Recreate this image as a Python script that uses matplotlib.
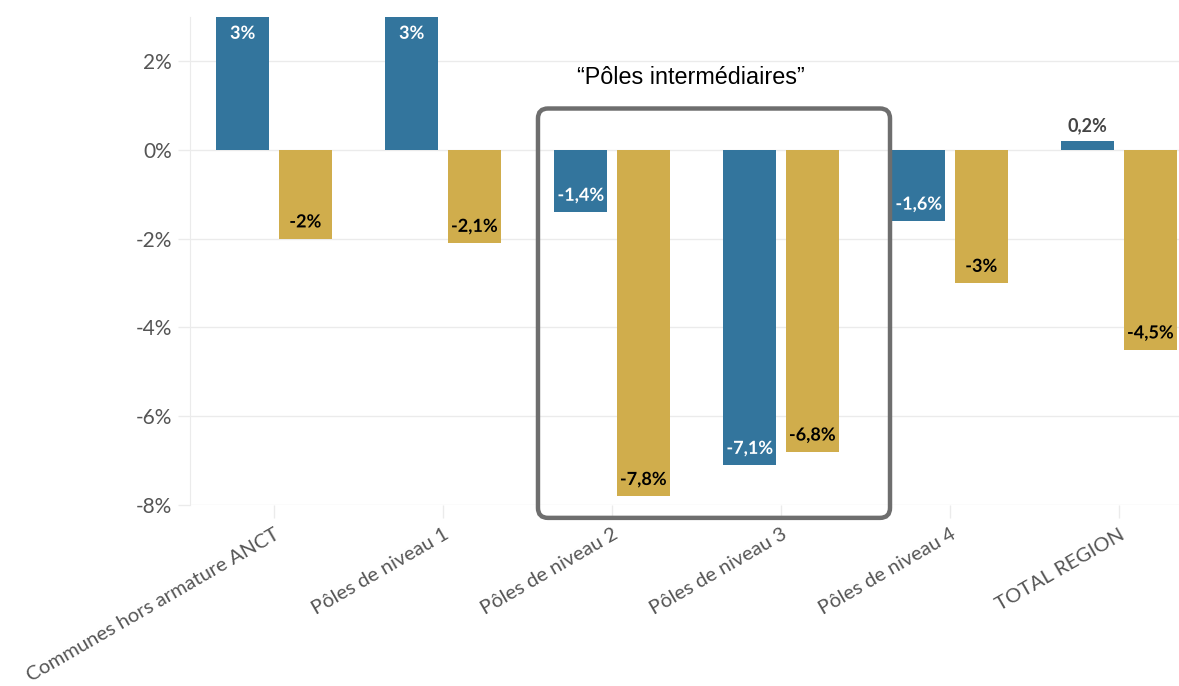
import matplotlib
matplotlib.use("Agg")
import matplotlib.pyplot as plt
import matplotlib.patheffects as pe
from matplotlib.patches import FancyBboxPatch
import numpy as np

categories = ["Communes hors armature ANCT", "Pôles de niveau 1", "Pôles de niveau 2",
              "Pôles de niveau 3", "Pôles de niveau 4", "TOTAL REGION"]
serie_bleue = [3.0, 3.0, -1.4, -7.1, -1.6, 0.2]
serie_or = [-2.0, -2.1, -7.8, -6.8, -3.0, -4.5]
yticks = [2, 0, -2, -4, -6, -8]
annotation = "“Pôles intermédiaires”"

BLUE = "#33759d"
GOLD = "#d0ad4c"
GRID = "#ebebeb"
TICKC = "#555555"

W, H = 1179, 686
fig = plt.figure(figsize=(W / 100, H / 100), dpi=100)
ax = fig.add_axes([190 / W, (H - 505) / H, 1 - 190 / W, (505 - 16.6) / H])

x = np.arange(len(categories))
bw = 0.315
off = 0.185
ax.bar(x - off, serie_bleue, bw, color=BLUE, zorder=2)
ax.bar(x + off, serie_or, bw, color=GOLD, zorder=2)

ax.set_ylim(-8.0, 3.0)
ax.set_xlim(-0.497, 5.355)
ax.set_yticks(yticks)
ax.set_yticklabels([f"{t}%" for t in yticks], fontsize=15, color=TICKC, family="Lato")
ax.set_xticks(x)
ax.set_xticklabels(categories, rotation=30, ha="right", rotation_mode="anchor",
                   fontsize=14.5, color=TICKC, family="Lato")
ax.tick_params(axis="both", length=9, color=GRID, width=1, pad=4)
ax.tick_params(axis="x", pad=6)
ax.grid(axis="y", color=GRID, linewidth=1, zorder=0)
for s in ["top", "right", "bottom"]:
    ax.spines[s].set_visible(False)
ax.spines["left"].set_color(GRID)


def fmt(v):
    if abs(v - round(v)) < 1e-9:
        return f"{int(round(v))}%"
    return f"{v:.1f}%".replace(".", ",")


def label(xp, v, txtcol, halo, outside=False, outcol="#444444"):
    if outside:
        ax.annotate(fmt(v), (xp, v), xytext=(0, 5), textcoords="offset points",
                    ha="center", va="bottom", fontsize=13, fontweight="bold",
                    color=outcol, family="Lato", zorder=4)
        return
    dy = -12 if v > 0 else 12
    ax.annotate(fmt(v), (xp, v), xytext=(0, dy), textcoords="offset points",
                ha="center", va="center", fontsize=13, fontweight="bold",
                color=txtcol, family="Lato", zorder=4,
                path_effects=[pe.withStroke(linewidth=4, foreground=halo)])


for i in range(len(categories)):
    vb = serie_bleue[i]
    if abs(vb) < 0.5:
        label(x[i] - off, vb, "white", BLUE, outside=True)
    else:
        label(x[i] - off, vb, "white", BLUE)
    label(x[i] + off, serie_or[i], "black", GOLD)

# annotation box around Pôles 2 and 3 (data coords -> inches)
fig.canvas.draw()
p0 = ax.transData.transform((1.562, 0.93))
p1 = ax.transData.transform((3.645, -8.29))
x0, y1 = p0[0] / 100, p0[1] / 100
x1, y0 = p1[0] / 100, p1[1] / 100
box = FancyBboxPatch((x0, y0), x1 - x0, y1 - y0,
                     boxstyle="round,pad=0,rounding_size=0.1",
                     transform=fig.dpi_scale_trans, fill=False,
                     edgecolor="#6e6e6e", linewidth=3.2, zorder=5, clip_on=False)
fig.add_artist(box)
fig.text(691 / W, 1 - 78 / H, annotation, ha="center", va="center",
         fontsize=16.8, family="Liberation Sans", color="black")

fig.savefig("out.png", dpi=100, facecolor="white")
